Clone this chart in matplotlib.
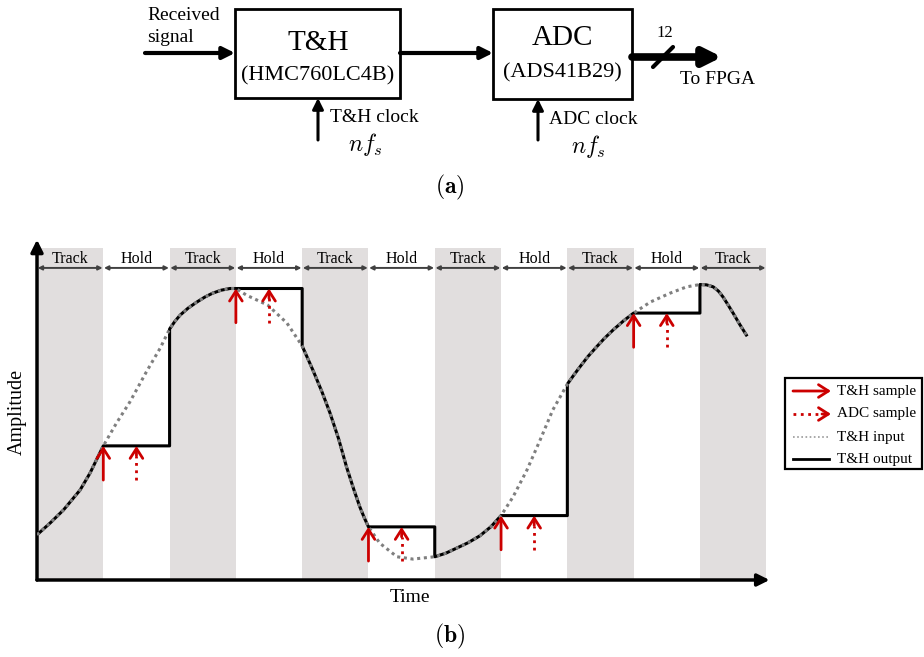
import numpy as np
import matplotlib.pyplot as plt
from matplotlib.patches import Rectangle

plt.rcParams['font.family'] = ['Liberation Serif', 'DejaVu Serif']
plt.rcParams['mathtext.fontset'] = 'cm'

# Track / hold phases, one per clock half-period
phases = ['Track', 'Hold', 'Track', 'Hold', 'Track', 'Hold',
          'Track', 'Hold', 'Track', 'Hold', 'Track']

# T&H input waveform (time in half-periods, normalised amplitude)
t_in = [0.0, 0.2, 0.4, 0.65, 0.8, 1.0, 1.2, 1.4, 1.65, 1.86,
        2.0, 2.08, 2.16, 2.28, 2.41, 2.53, 2.65, 2.78, 2.91, 3.0,
        3.16, 3.48, 3.77, 4.0, 4.16, 4.3, 4.42, 4.55, 4.67, 4.78,
        4.87, 4.94, 5.0, 5.17, 5.43, 5.67, 6.0, 6.17, 6.33, 6.5,
        6.68, 6.85, 7.0, 7.18, 7.39, 7.59, 7.78, 8.0, 8.1, 8.19,
        8.31, 8.44, 8.56, 8.69, 8.85, 9.0, 9.25, 9.55, 9.8, 10.0,
        10.1, 10.2, 10.28, 10.35, 10.42, 10.5, 10.6, 10.7]
amp_in = [0.136, 0.172, 0.211, 0.271, 0.322, 0.404, 0.473, 0.536, 0.627, 0.699,
          0.756, 0.779, 0.798, 0.819, 0.837, 0.852, 0.864, 0.873, 0.878, 0.878,
          0.858, 0.828, 0.774, 0.705, 0.633, 0.566, 0.503, 0.425, 0.340, 0.272,
          0.220, 0.186, 0.160, 0.111, 0.070, 0.063, 0.070, 0.081, 0.096, 0.112,
          0.133, 0.161, 0.194, 0.250, 0.331, 0.422, 0.512, 0.590, 0.618, 0.642,
          0.673, 0.702, 0.728, 0.753, 0.781, 0.804, 0.837, 0.864, 0.883, 0.890,
          0.889, 0.883, 0.870, 0.852, 0.830, 0.804, 0.770, 0.738]

legend_labels = ['T&H sample', 'ADC sample', 'T&H input', 'T&H output']

RED = '#cc0000'
SHADE = '#e1dede'
HEAD = '->,head_length=0.55,head_width=0.35'

fig = plt.figure(figsize=(9.24, 6.57), dpi=100)

# ---------- (a) block diagram, drawn in pixel units ----------
cv = fig.add_axes([0, 0, 1, 1])
cv.set_xlim(0, 924)
cv.set_ylim(657, 0)
cv.axis('off')


def block_arrow(x0, y0, x1, y1, lw=3, scale=18):
    cv.annotate('', xy=(x1, y1), xytext=(x0, y0),
                arrowprops=dict(arrowstyle='-|>', color='black', lw=lw,
                                mutation_scale=scale, shrinkA=0, shrinkB=0))


def red_arrow(axes, x0, y0, x1, y1):
    axes.annotate('', xy=(x1, y1), xytext=(x0, y0),
                  arrowprops=dict(arrowstyle=HEAD, color=RED, lw=2,
                                  mutation_scale=13, shrinkA=0, shrinkB=0),
                  zorder=5)


cv.add_patch(Rectangle((235, 9), 165, 89, fill=False, lw=2, ec='black'))
cv.add_patch(Rectangle((493, 9), 139, 90, fill=False, lw=2, ec='black'))
cv.text(318, 43, 'T&H', fontsize=21, ha='center', va='center')
cv.text(318, 76, '(HMC760LC4B)', fontsize=16, ha='center', va='center')
cv.text(562, 38, 'ADC', fontsize=21, ha='center', va='center')
cv.text(562, 73, '(ADS41B29)', fontsize=16, ha='center', va='center')

cv.text(147, 16, 'Received', fontsize=14, ha='left', va='center')
cv.text(147, 38, 'signal', fontsize=14, ha='left', va='center')
block_arrow(145, 53, 235, 53)
block_arrow(400, 53, 493, 53)
block_arrow(632, 57, 722, 57, lw=5.5, scale=26)
cv.plot([653, 673], [67, 47], color='black', lw=3, solid_capstyle='round')
cv.text(665, 33, '12', fontsize=12, ha='center', va='center')
cv.text(718, 79, 'To FPGA', fontsize=14, ha='center', va='center')

block_arrow(318, 140, 318, 98, lw=2.2, scale=16)
cv.text(330, 117, 'T&H clock', fontsize=14, ha='left', va='center')
cv.text(365, 144, r'$nf_s$', fontsize=17, ha='center', va='center')
block_arrow(538, 140, 538, 99, lw=2.2, scale=16)
cv.text(549, 119, 'ADC clock', fontsize=14, ha='left', va='center')
cv.text(588, 146, r'$nf_s$', fontsize=17, ha='center', va='center')

cv.text(450, 187, r'$\mathbf{(a)}$', fontsize=17, ha='center', va='center')
cv.text(450, 636, r'$\mathbf{(b)}$', fontsize=17, ha='center', va='center')
cv.text(17, 412, 'Amplitude', fontsize=14.5, rotation=90,
        ha='center', va='center')
cv.text(410, 597, 'Time', fontsize=14, ha='center', va='center')

# legend box
cv.add_patch(Rectangle((785, 378), 137, 91, fill=True, fc='white',
                       lw=1.6, ec='black'))
ly = [391, 414, 437, 459]
red_arrow(cv, 793, ly[0], 831, ly[0])
cv.plot([793, 823], [ly[1], ly[1]], color=RED, lw=2, ls=':')
red_arrow(cv, 822, ly[1], 831, ly[1])
cv.plot([793, 829], [ly[2], ly[2]], color='#9a9a9a', lw=1.2,
        ls=(0, (1, 1.5)))
cv.plot([793, 829], [ly[3], ly[3]], color='black', lw=2)
for y, lab in zip(ly, legend_labels):
    cv.text(837, y, lab, fontsize=11, ha='left', va='center')

# ---------- (b) track-and-hold waveforms ----------
ax = fig.add_axes([37 / 924, 77 / 657, 769 / 924, 348.6 / 657])
ax.set_xlim(0, 11.6)
ax.set_ylim(0, 1.05)
ax.axis('off')
ax.patch.set_alpha(0)

t_in = np.array(t_in)
amp_in = np.array(amp_in)

for k, ph in enumerate(phases):
    if ph == 'Track':
        ax.axvspan(k, k + 1, ymin=0, ymax=1.0 / 1.05, color=SHADE, lw=0,
                   zorder=0)
    ax.text(k + 0.5, 0.966, ph, fontsize=11.5, ha='center', va='center')
    ax.annotate('', xy=(k + 1, 0.94), xytext=(k, 0.94),
                arrowprops=dict(arrowstyle='<|-|>', color='#404040', lw=1.4,
                                mutation_scale=6, shrinkA=0.5, shrinkB=0.5))

# held output: follows input while tracking, freezes at hold start
t_out, a_out = [], []
for k, ph in enumerate(phases):
    if ph == 'Track':
        m = (t_in >= k) & (t_in <= k + 1)
        t_out += list(t_in[m])
        a_out += list(amp_in[m])
    else:
        held = np.interp(k, t_in, amp_in)
        t_out += [k, k + 1]
        a_out += [held, held]
ax.plot(t_out, a_out, color='black', lw=2.2, zorder=3)
ax.plot(t_in, amp_in, color='#7f7f7f', lw=2.2, ls=(0, (1, 1.2)), zorder=4)

# sampling instants: T&H at hold start, ADC half-way through hold
for k, ph in enumerate(phases):
    if ph != 'Hold':
        continue
    held = np.interp(k, t_in, amp_in)
    red_arrow(ax, k, held - 0.103, k, held)
    ax.plot([k + 0.5, k + 0.5], [held - 0.103, held - 0.03], color=RED,
            lw=2, ls=':', zorder=5)
    red_arrow(ax, k + 0.5, held - 0.03, k + 0.5, held)

# axes with arrow heads
ax.annotate('', xy=(11.05, 0), xytext=(0, 0),
            arrowprops=dict(arrowstyle='-|>', color='black', lw=2.5,
                            mutation_scale=18, shrinkA=0, shrinkB=0))
ax.annotate('', xy=(0, 1.025), xytext=(0, 0),
            arrowprops=dict(arrowstyle='-|>', color='black', lw=2.5,
                            mutation_scale=18, shrinkA=0, shrinkB=0))

fig.savefig('out.png', dpi=100)
